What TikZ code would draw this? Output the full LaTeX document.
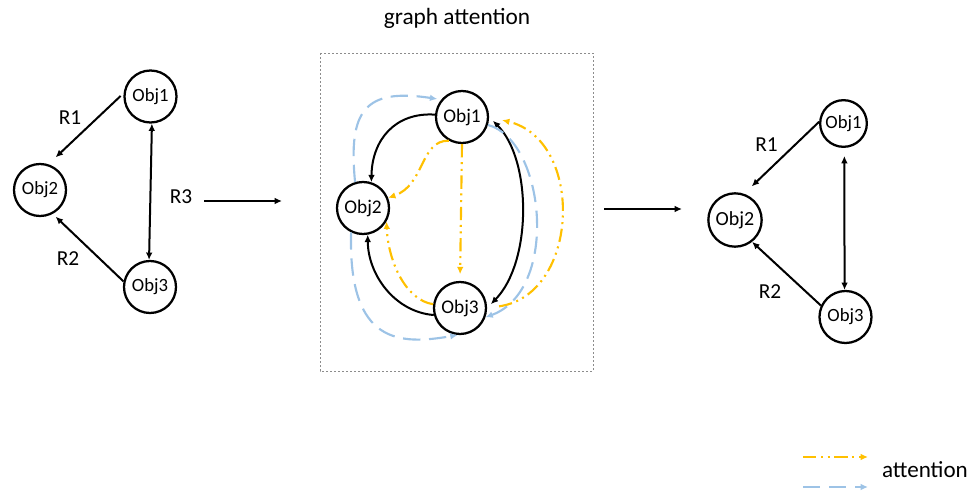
\documentclass[tikz,border=0pt]{standalone}
\usepackage{fontspec}
\setmainfont{Carlito}
\usetikzlibrary{arrows.meta}
\definecolor{attorange}{HTML}{FFC000}
\definecolor{attblue}{HTML}{9DC3E6}
\definecolor{framegray}{HTML}{8C8C8C}
\begin{document}
\begin{tikzpicture}[x=0.75pt,y=-0.75pt,
  objnode/.style={circle,draw,line width=1.7pt,inner sep=0pt,minimum size=#1},
  fL/.style={font=\fontsize{14}{16}\selectfont},
  fM/.style={font=\fontsize{14.5}{17}\selectfont},
  rel/.style={font=\fontsize{16}{18}\selectfont},
  arr/.style={line width=1.5pt,-{Latex[length=5.5pt,width=5pt]}},
  darr/.style={line width=1.5pt,{Latex[length=5.5pt,width=5pt]}-{Latex[length=5.5pt,width=5pt]}},
  attor/.style={draw=attorange,line width=1.6pt,dash pattern=on 10pt off 3.5pt on 1.5pt off 3.5pt on 1.5pt off 3.5pt,-{Latex[length=5.5pt,width=5pt,fill=attorange]}},
  attbl/.style={draw=attblue,line width=1.6pt,dash pattern=on 13pt off 6.5pt,-{Latex[length=5.5pt,width=5pt,fill=attblue]}}
]
\useasboundingbox (0,0) rectangle (975,492);

% title
\node[font=\fontsize{17.5}{20}\selectfont] (title) at (457,18) {graph attention};

% ---------- left graph ----------
\node[objnode=39pt,fL] (l1) at (150.5,96.5) {Obj1};
\node[objnode=39pt,fL] (l2) at (40,190) {Obj2};
\node[objnode=39pt,fL] (l3) at (150,287) {Obj3};
\draw[arr, shorten <=3pt, shorten >=7.5pt] (l1.173) -- (l2.72);
\draw[arr, shorten >=3pt] (l3.168) -- (l2.-62);
\draw[darr] (l1.-87) -- (l3.92);
\node[rel] (lR1) at (70,118) {R1};
\node[rel] (lR2) at (68,259) {R2};
\node[rel] (lR3) at (181,197) {R3};

\coordinate (a1s) at (204,201);
\coordinate (a1e) at (282,201);
\draw[arr] (a1s) -- (a1e);

% ---------- middle graph ----------
\draw[framegray, line width=0.6pt, dash pattern=on 1.5pt off 1.5pt] (320,53) rectangle (593,371);
\node[objnode=39pt,fM] (m1) at (462,117) {Obj1};
\node[objnode=39pt,fM] (m2) at (363,208) {Obj2};
\node[objnode=39pt,fM] (m3) at (460,308) {Obj3};

% black relations
\draw[arr] (m1.175) .. controls (395,112) and (372,140) .. (m2.72);
\draw[arr] (m3.195) .. controls (395,312) and (368,275) .. (m2.-80);
\draw[darr, shorten <=4pt, shorten >=4pt] (m1.east) .. controls (532,160) and (532,262) .. (m3.east);

% orange attention
\draw[attor] (m1.241) .. controls (420,140) and (425,185) .. (m2.22);
\draw[attor, shorten >=5pt] (m1.south) -- (m3.north);
\draw[attor] (m3.172) .. controls (405,300) and (388,260) .. (m2.-30);
\draw[attor, shorten <=9pt, shorten >=10pt] (m3.east) .. controls (580,295) and (585,140) .. (m1.east);

% blue attention
\draw[attbl, shorten >=3pt] (m2.107) .. controls (348,110) and (365,88) .. (m1.140);
\draw[attbl] (m1.-17) .. controls (545,140) and (560,290) .. (m3.-20);
\draw[attbl] (m2.244) .. controls (348,345) and (400,345) .. (m3.265);

\coordinate (a2s) at (604,209);
\coordinate (a2e) at (682,209);
\draw[arr] (a2s) -- (a2e);

% ---------- right graph ----------
\node[objnode=35pt,fL] (r1) at (843.5,123.5) {Obj1};
\node[objnode=40pt,font=\fontsize{15}{18}\selectfont] (r2) at (735,220) {Obj2};
\node[objnode=39pt,fL] (r3) at (845.5,317) {Obj3};
\draw[arr, shorten >=8pt] (r1.176) -- (r2.71);
\draw[arr] (r3.155) -- (r2.-52);
\draw[darr, shorten <=6pt] (r1.-88) -- (r3.92);
\node[rel] (rR1) at (766.5,145) {R1};
\node[rel] (rR2) at (770,291.5) {R2};

% ---------- legend ----------
\coordinate (lgos) at (803,457);
\coordinate (lgoe) at (868,457);
\coordinate (lgbs) at (803,487);
\coordinate (lgbe) at (868,487);
\draw[attor] (lgos) -- (lgoe);
\draw[attbl] (lgbs) -- (lgbe);
\node[font=\fontsize{17.3}{20}\selectfont] (lgtext) at (925,470) {attention};
\end{tikzpicture}
\end{document}
